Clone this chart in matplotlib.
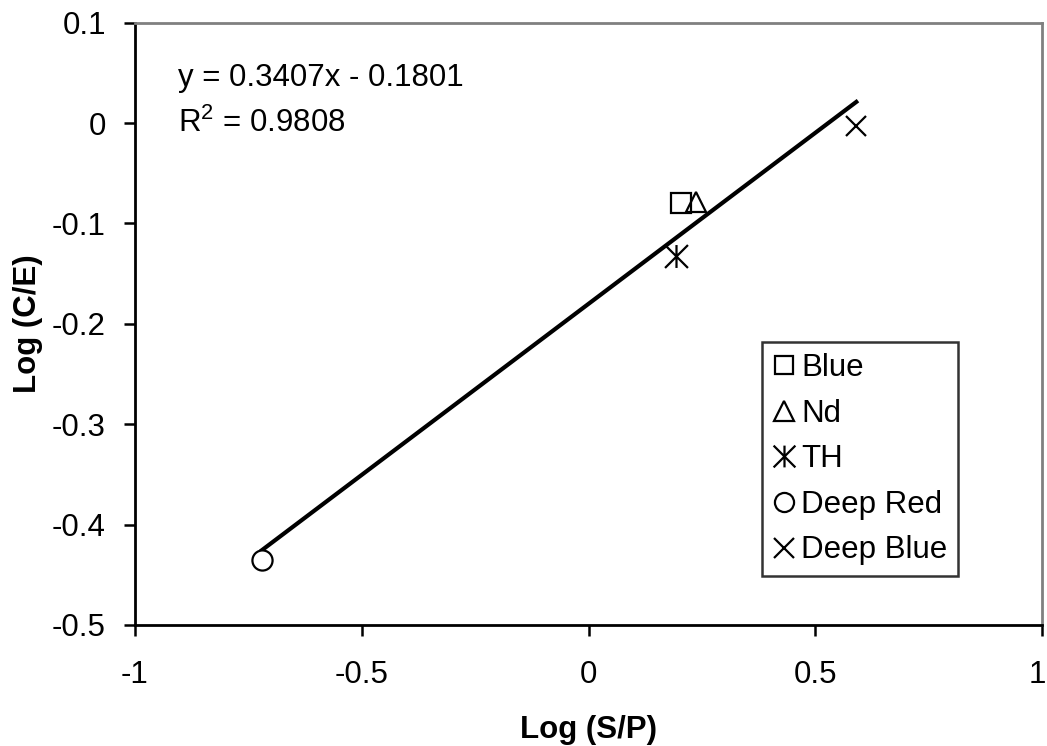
import numpy as np
import matplotlib
matplotlib.use("Agg")
import matplotlib.pyplot as plt
import matplotlib.transforms as mtransforms
from matplotlib.path import Path

plt.rcParams['font.family'] = ['Liberation Sans', 'DejaVu Sans']
plt.rcParams['mathtext.fontset'] = 'custom'
plt.rcParams['mathtext.rm'] = 'Liberation Sans'
plt.rcParams['mathtext.it'] = 'Liberation Sans'

# Measured points, Log(S/P) vs Log(C/E)
series_names = ["Blue", "Nd", "TH", "Deep Red", "Deep Blue"]
log_sp = [0.204, 0.237, 0.193, -0.720, 0.5905]
log_ce = [-0.0795, -0.079, -0.132, -0.435, -0.0025]

# Linear trendline as reported
slope = 0.3407
intercept = -0.1801
r_squared = 0.9808

FS = 22.5

# vertical bar plus diagonal cross
asterisk = Path([(0, -1), (0, 1), (-1, -1), (1, 1), (-1, 1), (1, -1)],
                [Path.MOVETO, Path.LINETO, Path.MOVETO, Path.LINETO,
                 Path.MOVETO, Path.LINETO])
markers = ['s', '^', asterisk, 'o', 'x']
faces = ['none', 'none', 'none', 'white', 'none']
sizes = [14, 15, 16.5, 14.5, 15]

fig = plt.figure(figsize=(10.47, 7.46), dpi=100)
ax = fig.add_axes([135 / 1047, 1 - 625 / 746, 907 / 1047, (625 - 22.7) / 746])

xs = np.array([min(log_sp), max(log_sp)])
ax.plot(xs, slope * xs + intercept, color='black', lw=3.0, zorder=2)

for name, x, y, m, fc, ms in zip(series_names, log_sp, log_ce, markers, faces, sizes):
    ax.plot([x], [y], linestyle='none', marker=m, markersize=ms,
            markerfacecolor=fc, markeredgecolor='black', markeredgewidth=1.6,
            label=name, zorder=3)

ax.set_xlim(-1, 1)
ax.set_ylim(-0.5, 0.1)
ax.set_xticks([-1, -0.5, 0, 0.5, 1])
ax.set_xticklabels(['-1', '-0.5', '0', '0.5', '1'])
ax.set_yticks([-0.5, -0.4, -0.3, -0.2, -0.1, 0, 0.1])
ax.set_yticklabels(['-0.5', '-0.4', '-0.3', '-0.2', '-0.1', '0', '0.1'])

ax.tick_params(axis='both', direction='out', length=8, width=1.8,
               labelsize=FS, colors='black')
ax.tick_params(axis='x', pad=17)
ax.tick_params(axis='y', pad=13)

# keep the rightmost x tick label inside the canvas
last = ax.get_xticklabels()[-1]
last.set_transform(last.get_transform() +
                   mtransforms.ScaledTranslation(-5 / 100, 0, fig.dpi_scale_trans))

for side in ['left', 'bottom']:
    ax.spines[side].set_color('black')
    ax.spines[side].set_linewidth(2.0)
for side in ['top', 'right']:
    ax.spines[side].set_color('#808080')
    ax.spines[side].set_linewidth(2.0)

ax.set_xlabel('Log (S/P)', fontsize=FS, fontweight='bold', va='center')
ax.set_ylabel('Log (C/E)', fontsize=FS, fontweight='bold', va='center')
ax.xaxis.set_label_coords(0.5, (625 - 730) / 602.3)
ax.yaxis.set_label_coords((28 - 135) / 907, 0.5)

sign = '-' if intercept < 0 else '+'
ax.text(178, 746 - 78, f"y = {slope:.4f}x {sign} {abs(intercept):.4f}",
        transform=None, fontsize=FS, va='center', ha='left')
ax.text(178, 746 - 123, r"R$^{2}$" + f" = {r_squared:.4f}",
        transform=None, fontsize=FS, va='center', ha='left')

leg = ax.legend(loc='upper left', bbox_to_anchor=(762 / 1047, 1 - 342 / 746),
                bbox_transform=fig.transFigure, fontsize=FS, frameon=True,
                fancybox=False, edgecolor='black', handlelength=0.7,
                handletextpad=0.2, labelspacing=0.5, borderpad=0.35,
                borderaxespad=0, markerscale=0.95)
leg.get_frame().set_linewidth(1.8)

fig.savefig('out.png', dpi=100)
